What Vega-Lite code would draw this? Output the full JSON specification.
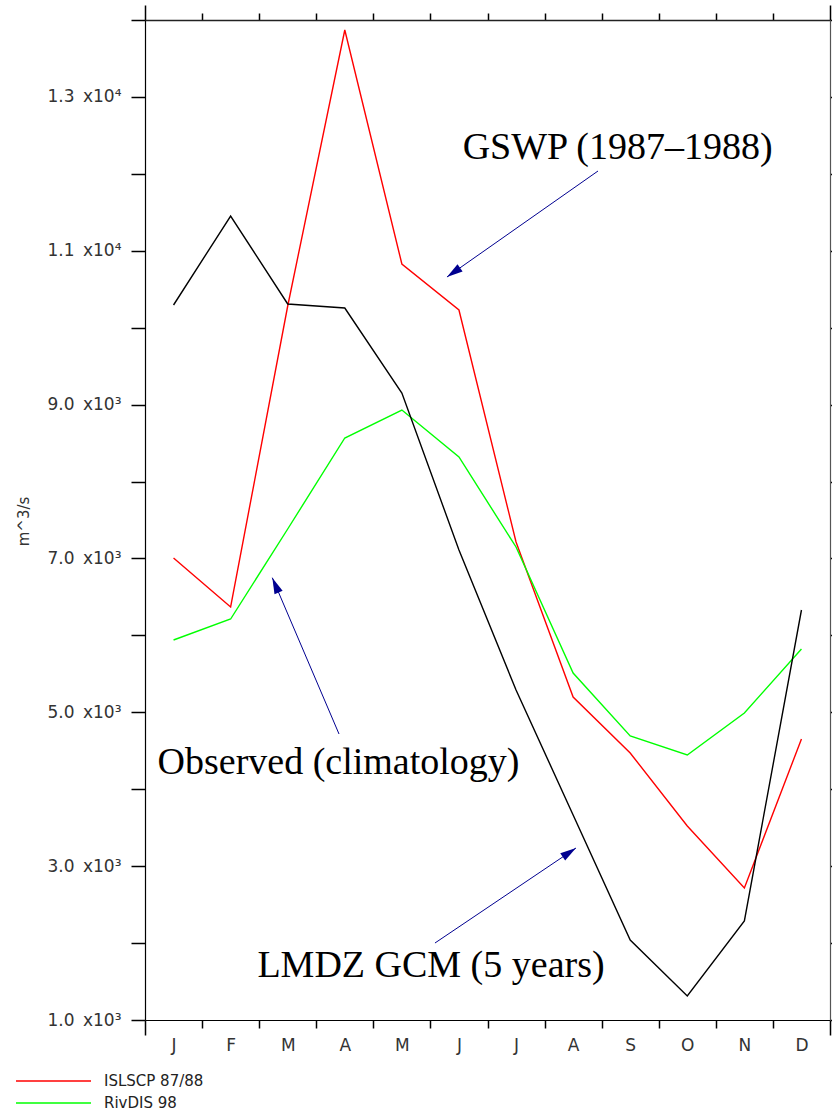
{
  "$schema": "https://vega.github.io/schema/vega-lite/v6.json",
  "width": 685,
  "height": 1000,
  "autosize": {"type": "none"},
  "padding": {"left": 145, "top": 20, "right": 2, "bottom": 92},
  "background": "white",
  "config": {"view": {"stroke": null}, "font": "DejaVu Sans"},
  "datasets": {
    "series": [
      {"month": 1, "series": "ISLSCP 87/88", "value": 7006},
      {"month": 2, "series": "ISLSCP 87/88", "value": 6369},
      {"month": 3, "series": "ISLSCP 87/88", "value": 10282},
      {"month": 4, "series": "ISLSCP 87/88", "value": 13870},
      {"month": 5, "series": "ISLSCP 87/88", "value": 10828},
      {"month": 6, "series": "ISLSCP 87/88", "value": 10230},
      {"month": 7, "series": "ISLSCP 87/88", "value": 7214},
      {"month": 8, "series": "ISLSCP 87/88", "value": 5199},
      {"month": 9, "series": "ISLSCP 87/88", "value": 4471},
      {"month": 10, "series": "ISLSCP 87/88", "value": 3522},
      {"month": 11, "series": "ISLSCP 87/88", "value": 2716},
      {"month": 12, "series": "ISLSCP 87/88", "value": 4653},
      {"month": 1, "series": "RivDIS 98", "value": 5940},
      {"month": 2, "series": "RivDIS 98", "value": 6213},
      {"month": 3, "series": "RivDIS 98", "value": 7383},
      {"month": 4, "series": "RivDIS 98", "value": 8566},
      {"month": 5, "series": "RivDIS 98", "value": 8930},
      {"month": 6, "series": "RivDIS 98", "value": 8319},
      {"month": 7, "series": "RivDIS 98", "value": 7149},
      {"month": 8, "series": "RivDIS 98", "value": 5511},
      {"month": 9, "series": "RivDIS 98", "value": 4692},
      {"month": 10, "series": "RivDIS 98", "value": 4445},
      {"month": 11, "series": "RivDIS 98", "value": 4991},
      {"month": 12, "series": "RivDIS 98", "value": 5823},
      {"month": 1, "series": "LMDZ GCM", "value": 10295},
      {"month": 2, "series": "LMDZ GCM", "value": 11452},
      {"month": 3, "series": "LMDZ GCM", "value": 10308},
      {"month": 4, "series": "LMDZ GCM", "value": 10256},
      {"month": 5, "series": "LMDZ GCM", "value": 9151},
      {"month": 6, "series": "LMDZ GCM", "value": 7110},
      {"month": 7, "series": "LMDZ GCM", "value": 5290},
      {"month": 8, "series": "LMDZ GCM", "value": 3665},
      {"month": 9, "series": "LMDZ GCM", "value": 2040},
      {"month": 10, "series": "LMDZ GCM", "value": 1312},
      {"month": 11, "series": "LMDZ GCM", "value": 2287},
      {"month": 12, "series": "LMDZ GCM", "value": 6330}
    ],
    "labels": [
      {"text": "GSWP (1987\u20131988)", "x": 8.78, "y": 12193},
      {"text": "Observed (climatology)", "x": 3.89, "y": 4198},
      {"text": "LMDZ GCM (5 years)", "x": 5.51, "y": 1559}
    ],
    "arrows": [
      {"x": 8.436, "y": 12037, "x2": 5.790, "y2": 10659, "angle": 234.9},
      {"x": 3.899, "y": 4718, "x2": 2.730, "y2": 6750, "angle": 336.9},
      {"x": 5.580, "y": 2001, "x2": 8.050, "y2": 3236, "angle": 56}
    ]
  },
  "layer": [
    {
      "data": {"name": "series"},
      "mark": {"type": "line", "strokeWidth": 1.4, "clip": true},
      "encoding": {
        "x": {
          "field": "month", "type": "quantitative",
          "scale": {"domain": [0.5, 12.5], "nice": false, "zero": false},
          "axis": {
            "orient": "bottom",
            "title": null,
            "values": [0.5, 1, 1.5, 2, 2.5, 3, 3.5, 4, 4.5, 5, 5.5, 6, 6.5, 7, 7.5, 8, 8.5, 9, 9.5, 10, 10.5, 11, 11.5, 12, 12.5],
            "labelExpr": "datum.value % 1 == 0 ? ['J','F','M','A','M','J','J','A','S','O','N','D'][datum.value - 1] : ''",
            "tickOpacity": {"condition": {"test": "datum.value % 1 == 0", "value": 0}, "value": 1},
            "tickSize": {"condition": {"test": "datum.value == 0.5 || datum.value == 12.5", "value": 15}, "value": 8},
            "tickColor": "#000000",
            "tickWidth": 1.5,
            "domainColor": "#000000",
            "domainWidth": 1.2,
            "grid": false,
            "labelFont": "DejaVu Sans",
            "labelFontSize": 17,
            "labelColor": "#333333",
            "labelPadding": 9,
            "labelFlush": false,
            "labelOverlap": false
          }
        },
        "y": {
          "field": "value", "type": "quantitative",
          "scale": {"domain": [1000, 14000], "nice": false, "zero": false},
          "axis": {
            "orient": "left",
            "title": "m^3/s",
            "titleFont": "DejaVu Sans",
            "titleFontSize": 15,
            "titleFontWeight": "normal",
            "titleColor": "#333333",
            "titleAngle": 270,
            "titleX": -122,
            "titleY": 501,
            "titleAlign": "center",
            "titleBaseline": "middle",
            "values": [1000, 2000, 3000, 4000, 5000, 6000, 7000, 8000, 9000, 10000, 11000, 12000, 13000, 14000],
            "labelExpr": "datum.value % 2000 == 1000 ? (datum.value < 10000 ? format(datum.value / 1000, '.1f') + '\u2002x10\u00b3' : format(datum.value / 10000, '.1f') + '\u2002x10\u2074') : ''",
            "tickSize": 14,
            "tickColor": "#000000",
            "tickWidth": 1.5,
            "domainColor": "#000000",
            "domainWidth": 1.2,
            "grid": false,
            "labelFont": "DejaVu Sans",
            "labelFontSize": 17,
            "labelColor": "#333333",
            "labelPadding": 10,
            "labelFlush": false,
            "labelOverlap": false
          }
        },
        "color": {
          "field": "series", "type": "nominal",
          "scale": {"domain": ["ISLSCP 87/88", "RivDIS 98", "LMDZ GCM"], "range": ["#ff0000", "#00ff00", "#000000"]},
          "legend": {
            "orient": "none",
            "legendX": -100,
            "legendY": 1052.5,
            "title": null,
            "values": ["ISLSCP 87/88", "RivDIS 98"],
            "symbolType": "M-5,0L5,0",
            "symbolSize": 225,
            "symbolStrokeWidth": 1.4,
            "labelFont": "DejaVu Sans",
            "labelFontSize": 15,
            "labelColor": "#222222",
            "rowPadding": 5,
            "labelOffset": 42,
            "padding": 0
          }
        }
      }
    },
    {
      "data": {"name": "series"},
      "mark": {"type": "line", "strokeOpacity": 0},
      "encoding": {
        "x": {
          "field": "month", "type": "quantitative",
          "axis": {
            "orient": "top",
            "title": null,
            "labels": false,
            "values": [0.5, 1, 1.5, 2, 2.5, 3, 3.5, 4, 4.5, 5, 5.5, 6, 6.5, 7, 7.5, 8, 8.5, 9, 9.5, 10, 10.5, 11, 11.5, 12, 12.5],
            "tickOpacity": {"condition": {"test": "datum.value % 1 == 0", "value": 0}, "value": 1},
            "tickSize": {"condition": {"test": "datum.value == 0.5 || datum.value == 12.5", "value": 15}, "value": 7},
            "tickColor": "#000000",
            "tickWidth": 1.5,
            "domainColor": "#222222",
            "domainWidth": 1.6,
            "grid": false
          }
        },
        "y": {
          "field": "value", "type": "quantitative",
          "axis": {
            "orient": "right",
            "title": null,
            "labels": false,
            "values": [1000, 2000, 3000, 4000, 5000, 6000, 7000, 8000, 9000, 10000, 11000, 12000, 13000, 14000],
            "tickSize": 5,
            "tickColor": "#000000",
            "tickWidth": 1.5,
            "domainColor": "#555555",
            "domainWidth": 1.2,
            "grid": false
          }
        }
      }
    },
    {
      "data": {"name": "arrows"},
      "mark": {"type": "rule", "color": "#000090", "strokeWidth": 1},
      "encoding": {
        "x": {"field": "x", "type": "quantitative", "axis": null},
        "y": {"field": "y", "type": "quantitative", "axis": null},
        "x2": {"field": "x2"},
        "y2": {"field": "y2"}
      }
    },
    {
      "data": {"name": "arrows"},
      "mark": {"type": "point", "filled": true, "color": "#000090", "opacity": 1, "size": 256, "shape": "M0,0L-0.55,2L0.55,2Z", "strokeWidth": 0},
      "encoding": {
        "x": {"field": "x2", "type": "quantitative", "axis": null},
        "y": {"field": "y2", "type": "quantitative", "axis": null},
        "angle": {"field": "angle", "type": "quantitative", "scale": null}
      }
    },
    {
      "data": {"name": "labels"},
      "mark": {"type": "text", "font": "Liberation Serif", "fontSize": 38, "align": "center", "baseline": "alphabetic", "color": "#000000"},
      "encoding": {
        "x": {"field": "x", "type": "quantitative", "axis": null},
        "y": {"field": "y", "type": "quantitative", "axis": null},
        "text": {"field": "text"}
      }
    }
  ],
  "resolve": {"axis": {"x": "independent", "y": "independent"}}
}
